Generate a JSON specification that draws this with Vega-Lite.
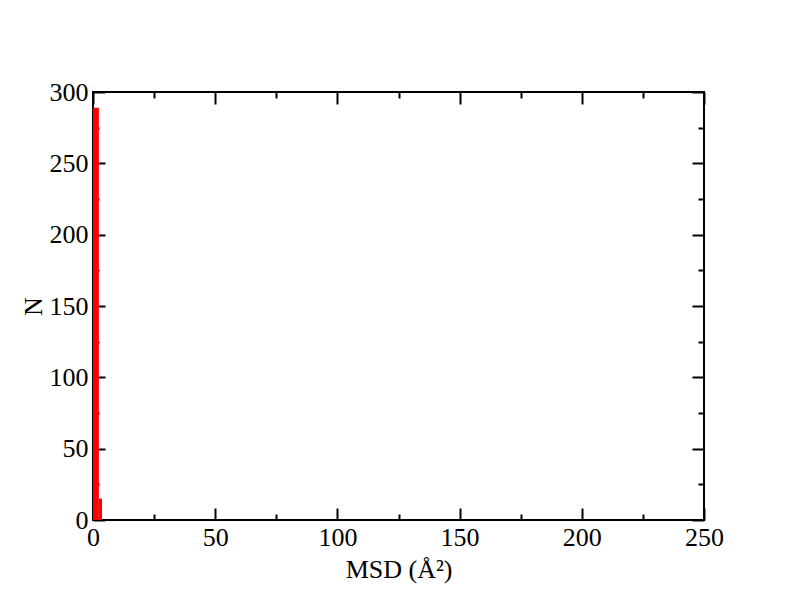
{
  "$schema": "https://vega.github.io/schema/vega-lite/v6.json",
  "width": 611,
  "height": 428,
  "autosize": "none",
  "padding": {"left": 93, "top": 92, "right": 88, "bottom": 92},
  "background": "white",
  "config": {
    "view": {"stroke": "black", "strokeWidth": 2},
    "axis": {"grid": false, "labelFlush": false, "labelOverlap": false, "labelFont": "Liberation Serif", "titleFont": "Liberation Serif", "labelColor": "black", "titleColor": "black", "tickColor": "black", "domainColor": "black", "labelFontSize": 26, "titleFontSize": 26, "titleFontWeight": "normal", "tickWidth": 2, "domainWidth": 2}
  },
  "data": {"values": [
    {"x0": 0, "x1": 2.4, "n": 289},
    {"x0": 2.4, "x1": 3.7, "n": 15}
  ]},
  "resolve": {"axis": {"x": "independent", "y": "independent"}},
  "layer": [
    {
      "mark": {"type": "bar", "opacity": 0},
      "encoding": {
        "x": {"field": "x0", "type": "quantitative", "scale": {"domain": [0, 250], "nice": false}, "axis": {"orient": "bottom", "values": [0, 50, 100, 150, 200, 250], "tickSize": -12, "labelPadding": 16, "title": "MSD (Å²)", "titlePadding": 6, "domain": false}},
        "x2": {"field": "x1"},
        "y": {"field": "n", "type": "quantitative", "scale": {"domain": [0, 300], "nice": false}, "axis": {"orient": "left", "values": [0, 50, 100, 150, 200, 250, 300], "tickSize": -12, "labelPadding": 17, "title": "N", "titlePadding": 3, "domain": false}},
        "y2": {"datum": 0}
      }
    },
    {
      "mark": {"type": "bar", "opacity": 0},
      "encoding": {
        "x": {"field": "x0", "type": "quantitative", "axis": {"orient": "bottom", "values": [25, 75, 125, 175, 225], "tickSize": -6, "labels": false, "title": null, "domain": false}},
        "x2": {"field": "x1"},
        "y": {"field": "n", "type": "quantitative", "axis": {"orient": "left", "values": [25, 75, 125, 175, 225, 275], "tickSize": -6, "labels": false, "title": null, "domain": false}},
        "y2": {"datum": 0}
      }
    },
    {
      "mark": {"type": "bar", "opacity": 0},
      "encoding": {
        "x": {"field": "x0", "type": "quantitative", "axis": {"orient": "top", "values": [0, 50, 100, 150, 200, 250], "tickSize": -12, "labels": false, "title": null, "domain": false}},
        "x2": {"field": "x1"},
        "y": {"field": "n", "type": "quantitative", "axis": {"orient": "right", "values": [0, 50, 100, 150, 200, 250, 300], "tickSize": -12, "labels": false, "title": null, "domain": false}},
        "y2": {"datum": 0}
      }
    },
    {
      "mark": {"type": "bar", "color": "#ff0000"},
      "encoding": {
        "x": {"field": "x0", "type": "quantitative", "axis": {"orient": "top", "values": [25, 75, 125, 175, 225], "tickSize": -6, "labels": false, "title": null, "domain": false}},
        "x2": {"field": "x1"},
        "y": {"field": "n", "type": "quantitative", "axis": {"orient": "right", "values": [25, 75, 125, 175, 225, 275], "tickSize": -6, "labels": false, "title": null, "domain": false}},
        "y2": {"datum": 0}
      }
    }
  ]
}
